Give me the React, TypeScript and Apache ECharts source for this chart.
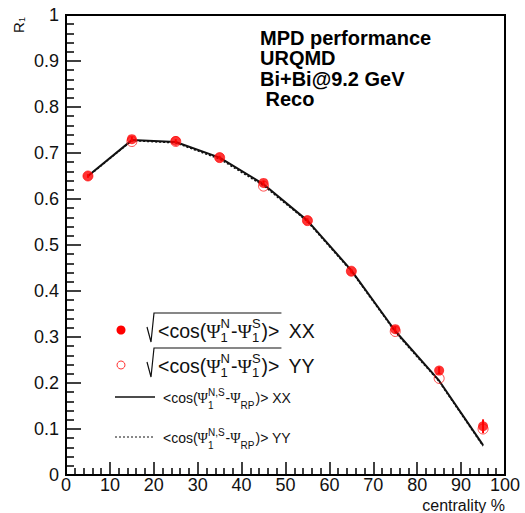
import React, { useEffect, useRef } from "react";
import * as echarts from "echarts";

const centrality = [5, 15, 25, 35, 45, 55, 65, 75, 85, 95];
const r1XX = [0.65, 0.73, 0.726, 0.69, 0.635, 0.553, 0.443, 0.317, 0.227, 0.106];
const r1XXErr = [0.004, 0.005, 0.004, 0.004, 0.005, 0.005, 0.005, 0.006, 0.008, 0.015];
const r1YY = [0.65, 0.725, 0.725, 0.69, 0.628, 0.553, 0.443, 0.312, 0.21, 0.1];
const rpXX = [0.65, 0.728, 0.724, 0.69, 0.632, 0.553, 0.445, 0.313, 0.205, 0.065];
const rpYY = [0.649, 0.727, 0.722, 0.687, 0.629, 0.551, 0.443, 0.311, 0.203, 0.063];
const infoLines = ["MPD performance", "URQMD", "Bi+Bi@9.2 GeV", " Reco"];

const SANS = "Liberation Sans, Arial, Helvetica, sans-serif";
const SERIF = "Liberation Serif, DejaVu Serif, serif";
const TXT = "#111";

let measureCtx: CanvasRenderingContext2D | null = null;
function measure(text: string, font: string): number {
  if (!measureCtx) measureCtx = document.createElement("canvas").getContext("2d");
  measureCtx!.font = font;
  return measureCtx!.measureText(text).width;
}

type Tok = { t?: string; serif?: boolean; sup?: string; sub?: string; gap?: number; mark?: boolean };

function mathRow(x0: number, y: number, toks: Tok[], size: number, small: number, supDy: number, subDy: number) {
  const els: any[] = [];
  let x = x0;
  let markX = x0;
  for (const tk of toks) {
    if (tk.gap) x += tk.gap;
    if (tk.mark) { markX = x; continue; }
    if (tk.t !== undefined) {
      const fam = tk.serif ? SERIF : SANS;
      const font = `${size}px ${fam}`;
      els.push({ type: "text", x, y, style: { text: tk.t, font, fill: TXT, align: "left", verticalAlign: "middle" } });
      x += measure(tk.t, font);
    } else {
      const font = `${small}px ${SANS}`;
      let w = 0;
      if (tk.sup) {
        els.push({ type: "text", x, y: y + supDy, style: { text: tk.sup, font, fill: TXT, align: "left", verticalAlign: "middle" } });
        w = Math.max(w, measure(tk.sup, font));
      }
      if (tk.sub) {
        els.push({ type: "text", x, y: y + subDy, style: { text: tk.sub, font, fill: TXT, align: "left", verticalAlign: "middle" } });
        w = Math.max(w, measure(tk.sub, font));
      }
      x += w + 1;
    }
  }
  return { els, endX: x, markX };
}

export default function App() {
  const ref = useRef<HTMLDivElement>(null);
  useEffect(() => {
    if (!ref.current) return;
    const chart = echarts.init(ref.current, undefined, { renderer: "svg" });

    const graphics: any[] = [];
    graphics.push({
      type: "group", x: 18, y: 33, rotation: Math.PI / 2,
      children: [
        { type: "text", x: 0, y: 0, style: { text: "R", font: `15px ${SANS}`, fill: TXT, align: "left", verticalAlign: "middle" } },
        { type: "text", x: 11, y: 4, style: { text: "1", font: `9px ${SANS}`, fill: TXT, align: "left", verticalAlign: "middle" } },
      ],
    });
    graphics.push({ type: "text", x: 505, y: 505, style: { text: "centrality %", font: `16px ${SANS}`, fill: TXT, align: "right", verticalAlign: "middle" } });
    infoLines.forEach((s, i) => {
      graphics.push({ type: "text", x: 260, y: 38 + i * 20.3, style: { text: s, font: `bold 20px ${SANS}`, fill: "#000", align: "left", verticalAlign: "middle" } });
    });

    graphics.push({ type: "circle", shape: { cx: 121, cy: 330, r: 4.5 }, style: { fill: "#ff0000" } });
    graphics.push({ type: "circle", shape: { cx: 121, cy: 365, r: 4 }, style: { fill: "none", stroke: "#ff3333", lineWidth: 1 } });
    graphics.push({ type: "line", shape: { x1: 115, y1: 397, x2: 155, y2: 397 }, style: { stroke: "#111", lineWidth: 1.5 } });
    graphics.push({ type: "line", shape: { x1: 115, y1: 437, x2: 155, y2: 437 }, style: { stroke: "#111", lineWidth: 1, lineDash: [2, 2] } });

    const sqrtRow = (y: number, lab: string) => {
      const r = mathRow(158, y, [
        { t: "<cos(" }, { t: "Ψ", serif: true }, { sup: "N", sub: "1" }, { t: "-" }, { t: "Ψ", serif: true },
        { sup: "S", sub: "1" }, { t: ")>" }, { mark: true, gap: 2 }, { t: " " + lab, gap: 2 },
      ], 19.5, 13, -8, 6);
      graphics.push(...r.els);
      graphics.push({
        type: "polyline",
        shape: { points: [[147, y - 4], [151, y + 11], [154, y - 18], [r.markX, y - 18]] },
        style: { stroke: TXT, lineWidth: 1.2, fill: "none" },
      });
    };
    sqrtRow(331, "XX");
    sqrtRow(366, "YY");

    const rpRow = (y: number, lab: string) => {
      const r = mathRow(163, y, [
        { t: "<cos(" }, { t: "Ψ", serif: true }, { sup: "N,S", sub: "1" }, { t: "-" }, { t: "Ψ", serif: true },
        { sub: "RP" }, { t: ")> " + lab },
      ], 14, 10, -6, 7);
      graphics.push(...r.els);
    };
    rpRow(398, "XX");
    rpRow(438, "YY");

    const axisCommon = {
      type: "value" as const,
      axisLine: { show: true, onZero: false, lineStyle: { color: "#000", width: 2 } },
      splitLine: { show: false },
      minorSplitLine: { show: false },
    };

    chart.setOption({
      animation: false,
      backgroundColor: "#fff",
      grid: { left: 66, right: 20, top: 15, bottom: 38, show: true, borderColor: "#000", borderWidth: 2, backgroundColor: "transparent" },
      xAxis: {
        ...axisCommon,
        min: 0, max: 100, interval: 10,
        axisTick: { show: true, inside: true, length: 13, lineStyle: { color: "#000", width: 1.5 } },
        minorTick: { show: true, splitNumber: 5, length: 7, lineStyle: { color: "#000", width: 1.5 } },
        axisLabel: { color: TXT, fontSize: 18, fontFamily: SANS, margin: 1 },
      },
      yAxis: {
        ...axisCommon,
        min: 0, max: 1, interval: 0.1,
        axisTick: { show: true, inside: true, length: 15, lineStyle: { color: "#000", width: 1.5 } },
        minorTick: { show: true, splitNumber: 5, length: 8, lineStyle: { color: "#000", width: 1.5 } },
        axisLabel: { color: TXT, fontSize: 18, fontFamily: SANS, margin: 7 },
      },
      graphic: graphics,
      series: [
        {
          type: "line", data: centrality.map((c, i) => [c, rpYY[i]]), symbol: "none", z: 2,
          lineStyle: { color: "#111", width: 1.5, type: [2, 2] },
        },
        {
          type: "line", data: centrality.map((c, i) => [c, rpXX[i]]), symbol: "none", z: 3,
          lineStyle: { color: "#111", width: 2 },
        },
        {
          type: "scatter", data: centrality.map((c, i) => [c, r1YY[i]]), symbol: "circle", symbolSize: 10, z: 4,
          itemStyle: { color: "rgba(0,0,0,0)", borderColor: "#ff2222", borderWidth: 1 },
        },
        {
          type: "custom", z: 5,
          data: centrality.map((c, i) => [c, r1XX[i] - r1XXErr[i], r1XX[i] + r1XXErr[i]]),
          encode: { x: 0, y: [1, 2] },
          renderItem: (_p: any, api: any) => {
            const a = api.coord([api.value(0), api.value(1)]);
            const b = api.coord([api.value(0), api.value(2)]);
            return { type: "line", shape: { x1: a[0], y1: a[1], x2: b[0], y2: b[1] }, style: { stroke: "#ff0000", lineWidth: 2 } };
          },
        },
        {
          type: "scatter", data: centrality.map((c, i) => [c, r1XX[i]]), symbol: "circle", symbolSize: 10, z: 6,
          itemStyle: { color: "#ff0000" },
        },
      ],
    });
    return () => chart.dispose();
  }, []);
  return <div ref={ref} style={{ position: "fixed", left: 0, top: 0, width: 525, height: 513 }} />;
}
